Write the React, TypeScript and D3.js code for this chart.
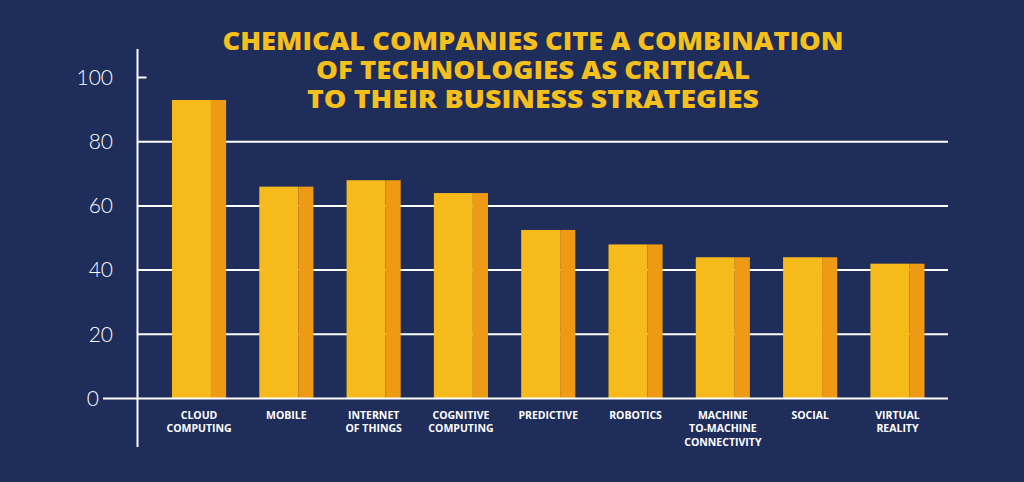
import React from "react";
import * as d3 from "d3";

const categories: string[][] = [
  ["CLOUD", "COMPUTING"],
  ["MOBILE"],
  ["INTERNET", "OF THINGS"],
  ["COGNITIVE", "COMPUTING"],
  ["PREDICTIVE"],
  ["ROBOTICS"],
  ["MACHINE", "TO-MACHINE", "CONNECTIVITY"],
  ["SOCIAL"],
  ["VIRTUAL", "REALITY"],
];
const values: number[] = [93, 66, 68, 64, 52.5, 48, 44, 44, 42];
const yTicks: number[] = [0, 20, 40, 60, 80, 100];
const titleLines: string[] = [
  "CHEMICAL COMPANIES CITE A COMBINATION",
  "OF TECHNOLOGIES AS CRITICAL",
  "TO THEIR BUSINESS STRATEGIES",
];

const W = 1024;
const H = 482;
const BG = "#1f2d5b";
const FRONT = "#f6ba1b";
const SIDE = "#ee9a15";
const TITLE = "#f5bf1c";

export default function App() {
  const keys = categories.map((c) => c.join(" "));
  const x = d3
    .scaleBand<string>()
    .domain(keys)
    .range([155.4, 941.1])
    .paddingInner(0.38)
    .paddingOuter(0.19);
  const y = d3.scaleLinear().domain([0, 100]).range([398.5, 77.5]);
  const axisX = 137.5;
  const gridRight = 948;
  const bw = x.bandwidth();
  const sideW = bw * 0.28;

  const titleWidths = [621, 434, 452];
  const titleBaselines = [50, 79, 108];

  return (
    <svg
      width={W}
      height={H}
      style={{ position: "absolute", left: 0, top: 0, display: "block" }}
    >
      <rect x={0} y={0} width={W} height={H} fill={BG} />
      {/* gridlines */}
      {yTicks
        .filter((t) => t > 0 && t < 100)
        .map((t) => (
          <line
            key={"g" + t}
            x1={axisX}
            x2={gridRight}
            y1={y(t)}
            y2={y(t)}
            stroke="#ffffff"
            strokeWidth={2}
          />
        ))}
      {/* 100 tick */}
      <line x1={axisX} x2={axisX + 9} y1={y(100)} y2={y(100)} stroke="#fff" strokeWidth={2} />
      {/* bars */}
      {values.map((v, i) => {
        const bx = x(keys[i]) as number;
        const top = y(v);
        const h = y(0) - top;
        return (
          <g key={"b" + i}>
            <rect x={bx} y={top} width={bw - sideW} height={h} fill={FRONT} />
            <rect x={bx + bw - sideW} y={top} width={sideW} height={h} fill={SIDE} />
          </g>
        );
      })}
      {/* baseline */}
      <line x1={103} x2={gridRight} y1={y(0)} y2={y(0)} stroke="#fff" strokeWidth={2} />
      {/* vertical axis */}
      <line x1={axisX} x2={axisX} y1={49} y2={447} stroke="#fff" strokeWidth={2} />
      {/* y tick labels */}
      {yTicks.map((t) => (
        <text
          key={"t" + t}
          x={t === 0 ? 99 : 113}
          y={y(t)}
          dy="0.35em"
          textAnchor="end"
          fill="#ffffff"
          fontFamily="Lato, 'Open Sans', sans-serif"
          fontWeight={300}
          fontSize={21}
        >
          {t}
        </text>
      ))}
      {/* x labels */}
      {categories.map((lines, i) => {
        const cx = (x(keys[i]) as number) + bw / 2;
        return (
          <text
            key={"x" + i}
            textAnchor="middle"
            fill="#ffffff"
            fontFamily="'Open Sans', sans-serif"
            fontWeight={700}
            fontSize={10.5}
          >
            {lines.map((l, j) => (
              <tspan key={j} x={cx} y={418.5 + j * 13.8}>
                {l}
              </tspan>
            ))}
          </text>
        );
      })}
      {/* title */}
      {titleLines.map((l, i) => (
        <text
          key={"title" + i}
          x={533}
          y={titleBaselines[i]}
          textAnchor="middle"
          fill={TITLE}
          fontFamily="'Open Sans', sans-serif"
          fontWeight={800}
          fontSize={25}
          textLength={titleWidths[i]}
          lengthAdjust="spacingAndGlyphs"
        >
          {l}
        </text>
      ))}
    </svg>
  );
}
